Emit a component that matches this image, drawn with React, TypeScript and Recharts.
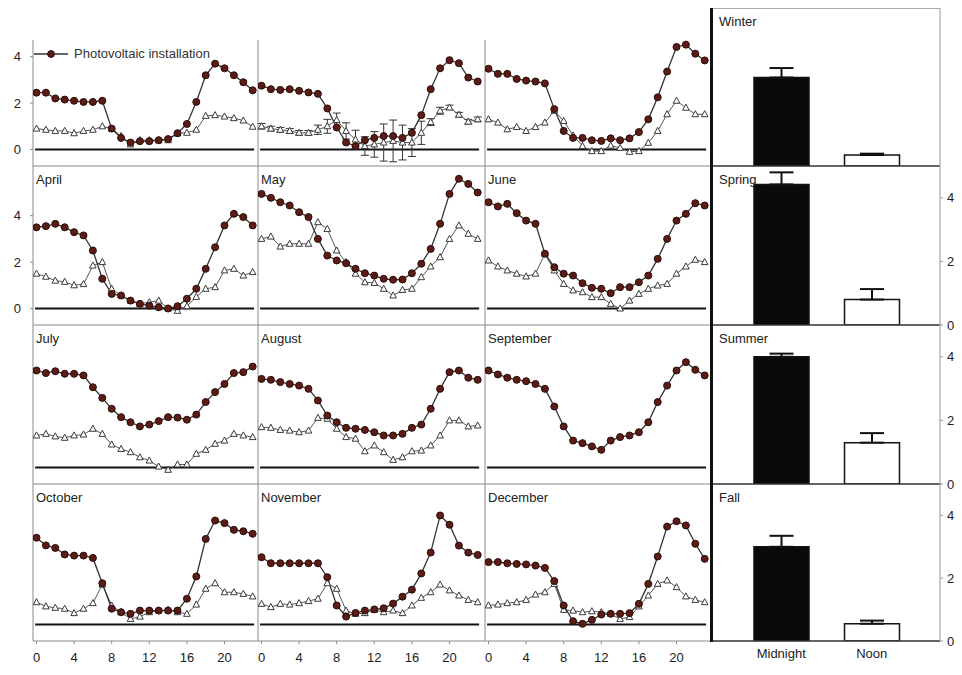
import React from 'react';
import {
  LineChart,
  Line,
  XAxis,
  YAxis,
  ReferenceLine,
  ErrorBar,
  BarChart,
  Bar,
  Cell,
  Legend
} from 'recharts';

// hours of the day and axis ticks
const hours = [0, 1, 2, 3, 4, 5, 6, 7, 8, 9, 10, 11, 12, 13, 14, 15, 16, 17, 18, 19, 20, 21, 22, 23];
const hourTicks = [0, 4, 8, 12, 16, 20];
const valueTicks = [0, 2, 4];

// photovoltaic installation (filled dots) and reference site (open triangles), per month
const pvJan = [2.45, 2.45, 2.2, 2.15, 2.1, 2.05, 2.05, 2.1, 0.9, 0.5, 0.3, 0.36, 0.36, 0.4, 0.45, 0.7, 1.1, 2.05, 3.2, 3.7, 3.5, 3.2, 2.9, 2.55];
const refJan = [0.9, 0.85, 0.8, 0.8, 0.7, 0.8, 0.85, 1.0, 0.9, 0.58, 0.22, 0.4, 0.4, 0.4, 0.4, 0.7, 0.72, 0.85, 1.45, 1.48, 1.42, 1.35, 1.25, 0.98];
const pvFeb = [2.75, 2.6, 2.57, 2.6, 2.53, 2.46, 2.4, 1.77, 0.95, 0.3, 0.15, 0.4, 0.5, 0.58, 0.58, 0.5, 0.72, 1.48, 2.6, 3.5, 3.85, 3.72, 3.1, 2.93];
const refFeb = [1.0, 0.9, 0.85, 0.8, 0.72, 0.72, 0.85, 1.0, 1.27, 0.8, 0.43, 0.15, 0.22, 0.3, 0.37, 0.3, 0.3, 0.72, 1.18, 1.67, 1.81, 1.5, 1.2, 1.3];
const refFebErr = [0.12, 0.1, 0.1, 0.1, 0.1, 0.1, 0.2, 0.3, 0.3, 0.35, 0.4, 0.4, 0.55, 0.8, 0.9, 0.75, 0.6, 0.5, 0.15, 0.15, 0.1, 0.1, 0.1, 0.1];
const pvMar = [3.48, 3.26, 3.26, 3.04, 2.97, 2.93, 2.85, 1.74, 0.8, 0.5, 0.5, 0.4, 0.37, 0.48, 0.4, 0.48, 0.75, 1.3, 2.25, 3.36, 4.42, 4.52, 4.13, 3.84];
const refMar = [1.3, 1.16, 0.87, 0.97, 0.8, 0.97, 1.16, 1.67, 1.23, 0.6, 0.15, -0.07, -0.07, 0.17, 0.07, -0.1, -0.07, 0.29, 0.8, 1.52, 2.1, 1.8, 1.52, 1.52];
const pvApr = [3.5, 3.55, 3.65, 3.5, 3.29, 3.15, 2.5, 1.28, 0.63, 0.56, 0.34, 0.2, 0.12, 0.05, 0.0, 0.1, 0.42, 0.85, 1.71, 2.64, 3.58, 4.08, 3.94, 3.58];
const refApr = [1.5, 1.37, 1.2, 1.15, 1.0, 1.05, 1.85, 2.0, 0.85, 0.56, 0.34, 0.2, 0.27, 0.34, 0.0, -0.1, 0.1, 0.5, 0.85, 0.92, 1.64, 1.71, 1.42, 1.57];
const pvMay = [4.94, 4.77, 4.58, 4.44, 4.15, 3.94, 3.0, 2.28, 2.07, 1.95, 1.71, 1.52, 1.42, 1.28, 1.24, 1.25, 1.52, 1.93, 2.57, 3.65, 4.94, 5.59, 5.37, 5.0];
const refMay = [3.0, 3.1, 2.67, 2.79, 2.79, 2.79, 3.72, 3.43, 2.5, 2.0, 1.5, 1.13, 1.1, 0.85, 0.56, 0.8, 0.85, 1.35, 1.81, 2.21, 3.0, 3.58, 3.22, 3.0];
const pvJun = [4.58, 4.4, 4.51, 4.11, 3.79, 3.65, 2.36, 1.78, 1.5, 1.42, 1.09, 0.89, 0.85, 0.66, 0.92, 0.92, 1.13, 1.42, 2.14, 3.0, 3.79, 4.08, 4.54, 4.44];
const refJun = [2.07, 1.81, 1.64, 1.5, 1.38, 1.5, 2.36, 1.64, 1.06, 0.78, 0.7, 0.49, 0.49, 0.2, 0.0, 0.34, 0.63, 0.85, 0.99, 1.06, 1.5, 1.81, 2.1, 2.0];
const pvJul = [4.18, 4.07, 4.15, 4.04, 4.04, 3.97, 3.46, 3.0, 2.53, 2.17, 1.95, 1.77, 1.85, 2.0, 2.17, 2.15, 2.06, 2.28, 2.82, 3.25, 3.6, 4.07, 4.11, 4.35];
const refJul = [1.38, 1.45, 1.34, 1.28, 1.38, 1.42, 1.67, 1.45, 0.99, 0.8, 0.66, 0.44, 0.3, 0.04, -0.1, 0.13, 0.13, 0.59, 0.76, 1.02, 1.16, 1.45, 1.38, 1.31];
const pvAug = [3.82, 3.78, 3.68, 3.6, 3.53, 3.39, 2.89, 2.24, 1.95, 1.71, 1.67, 1.62, 1.52, 1.38, 1.38, 1.45, 1.71, 1.85, 2.53, 3.39, 4.11, 4.18, 3.87, 3.78];
const refAug = [1.74, 1.71, 1.62, 1.59, 1.52, 1.59, 2.14, 2.1, 1.67, 1.31, 1.24, 0.7, 0.95, 0.66, 0.33, 0.44, 0.7, 0.73, 0.95, 1.38, 2.03, 2.03, 1.77, 1.81];
const pvSep = [4.18, 4.01, 3.87, 3.78, 3.72, 3.6, 3.39, 2.63, 1.77, 1.16, 1.05, 0.91, 0.76, 1.16, 1.31, 1.38, 1.52, 1.95, 2.82, 3.53, 4.18, 4.54, 4.21, 3.97];
const pvOct = [3.74, 3.41, 3.3, 3.02, 2.97, 2.97, 2.87, 1.78, 0.68, 0.53, 0.46, 0.6, 0.6, 0.6, 0.6, 0.6, 1.11, 2.07, 3.69, 4.48, 4.37, 4.08, 4.02, 3.91];
const refOct = [0.96, 0.78, 0.72, 0.68, 0.49, 0.68, 0.92, 1.72, 0.82, 0.53, 0.24, 0.34, 0.53, 0.6, 0.63, 0.53, 0.46, 0.86, 1.54, 1.78, 1.39, 1.39, 1.32, 1.21];
const pvNov = [2.9, 2.64, 2.64, 2.64, 2.64, 2.64, 2.64, 2.04, 0.82, 0.34, 0.5, 0.6, 0.65, 0.7, 0.9, 1.2, 1.5, 2.2, 3.1, 4.7, 4.3, 3.4, 3.1, 3.0];
const refNov = [0.89, 0.75, 0.89, 0.86, 0.92, 1.01, 1.11, 1.78, 1.54, 0.6, 0.46, 0.49, 0.63, 0.53, 0.6, 0.49, 0.82, 1.15, 1.39, 1.72, 1.47, 1.25, 1.06, 0.96];
const pvDec = [2.69, 2.69, 2.64, 2.61, 2.59, 2.54, 2.44, 1.87, 0.82, 0.14, 0.03, 0.2, 0.43, 0.46, 0.46, 0.49, 0.89, 1.75, 2.93, 4.22, 4.45, 4.27, 3.48, 2.83];
const refDec = [0.82, 0.86, 0.92, 0.96, 1.06, 1.29, 1.39, 1.75, 0.63, 0.6, 0.53, 0.57, 0.53, 0.46, 0.24, 0.32, 0.78, 1.25, 1.75, 1.9, 1.61, 1.21, 1.06, 0.96];

// seasonal means at midnight and noon
const seasons = ['Winter', 'Spring', 'Summer', 'Fall'];
const periods = ['Midnight', 'Noon'];
const midnightMean = [2.8, 4.42, 4.0, 3.0];
const midnightErr = [0.3, 0.38, 0.1, 0.35];
const noonMean = [0.35, 0.8, 1.3, 0.55];
const noonErr = [0.04, 0.33, 0.3, 0.1];

const panels = [
  { month: 'January', showName: false, pv: pvJan, ref: refJan, err: null },
  { month: 'February', showName: false, pv: pvFeb, ref: refFeb, err: refFebErr },
  { month: 'March', showName: false, pv: pvMar, ref: refMar, err: null },
  { month: 'April', showName: true, pv: pvApr, ref: refApr, err: null },
  { month: 'May', showName: true, pv: pvMay, ref: refMay, err: null },
  { month: 'June', showName: true, pv: pvJun, ref: refJun, err: null },
  { month: 'July', showName: true, pv: pvJul, ref: refJul, err: null },
  { month: 'August', showName: true, pv: pvAug, ref: refAug, err: null },
  { month: 'September', showName: true, pv: pvSep, ref: null, err: null },
  { month: 'October', showName: true, pv: pvOct, ref: refOct, err: null },
  { month: 'November', showName: true, pv: pvNov, ref: refNov, err: null },
  { month: 'December', showName: true, pv: pvDec, ref: refDec, err: null }
];

// layout (page pixels)
const COL_X = [33, 258, 485];
const COL_W = [225, 227, 226];
const ROW_Y = [40, 166, 325, 484];
const ROW_H = [126, 159, 159, 157];
const BAR_X = 713;
const BAR_W = 227;
const BAR_Y = [8, 166, 325, 484];
const BAR_H = [158, 159, 159, 157];
const PX_HOUR = 9.4;
const PX_UNIT = 23.2;
const ZERO_OFF = 16.5;
const HOUR0_OFF = 3.5;

const FONT = '"Liberation Sans", Arial, Helvetica, sans-serif';
const PV_FILL = '#5c1c15';
const tickStyle = { fontSize: 13, fill: '#222' };

const triangleDot = (props: any) => {
  const { cx, cy, index, value } = props;
  if (cx == null || cy == null || value == null) return <g key={`t-${index}`} />;
  return (
    <path
      key={`t-${index}`}
      d={`M${cx},${cy - 3.6}L${cx + 3.3},${cy + 2.5}L${cx - 3.3},${cy + 2.5}Z`}
      fill="#fff"
      stroke="#3a3a3a"
      strokeWidth={1}
    />
  );
};

const PvLegend = () => (
  <div style={{ display: 'flex', alignItems: 'center', fontSize: 13, color: '#333', fontFamily: FONT }}>
    <svg width={36} height={10}>
      <line x1={0} y1={5} x2={34} y2={5} stroke="#333" strokeWidth={1.3} />
      <circle cx={17} cy={5} r={3.4} fill={PV_FILL} stroke="#2a0c08" />
    </svg>
    <span style={{ marginLeft: 4 }}>Photovoltaic installation</span>
  </div>
);

const MonthPanel = ({ idx }: { idx: number }) => {
  const p = panels[idx];
  const row = Math.floor(idx / 3);
  const col = idx % 3;
  const W = COL_W[col];
  const H = ROW_H[row];
  const padL = col === 0 ? 32 : 4;
  const padB = row === 3 ? 30 : 5;
  const xMin = -HOUR0_OFF / PX_HOUR;
  const xMax = xMin + W / PX_HOUR;
  const yMin = -ZERO_OFF / PX_UNIT;
  const yMax = yMin + H / PX_UNIT;
  const data = hours.map((h, i) => ({
    h,
    pv: p.pv[i],
    ref: p.ref ? p.ref[i] : null,
    err: p.err ? [p.err[i], p.err[i]] : null
  }));

  return (
    <div style={{ position: 'absolute', left: COL_X[col] - padL, top: ROW_Y[row] }}>
      <LineChart width={W + padL} height={H + padB} data={data} margin={{ top: 0, right: 0, bottom: 0, left: 0 }}>
        <XAxis
          type="number"
          dataKey="h"
          domain={[xMin, xMax]}
          allowDataOverflow
          ticks={hourTicks}
          interval={0}
          height={padB}
          tick={row === 3 ? tickStyle : false}
          tickSize={3}
          tickMargin={9}
          stroke="#8a8a8a"
        />
        <YAxis
          type="number"
          domain={[yMin, yMax]}
          allowDataOverflow
          ticks={valueTicks}
          interval={0}
          width={padL}
          tick={col === 0 && row < 2 ? tickStyle : false}
          tickSize={3}
          tickMargin={9}
          stroke="#8a8a8a"
        />
        <ReferenceLine
          segment={[{ x: -0.15, y: 0 }, { x: 23.15, y: 0 }]}
          stroke="#111"
          strokeWidth={2}
        />
        {idx === 0 && (
          <Legend
            layout="vertical"
            align="center"
            verticalAlign="middle"
            wrapperStyle={{ left: padL + 1, top: 6, width: 200 }}
            content={() => <PvLegend />}
          />
        )}
        {p.ref && (
          <Line
            type="linear"
            dataKey="ref"
            name="Reference site"
            stroke="#555"
            strokeWidth={1}
            dot={triangleDot}
            activeDot={false}
            isAnimationActive={false}
          >
            {p.err && <ErrorBar dataKey="err" direction="y" width={4} strokeWidth={1} stroke="#333" />}
          </Line>
        )}
        <Line
          type="linear"
          dataKey="pv"
          name="Photovoltaic installation"
          stroke="#333"
          strokeWidth={1.3}
          dot={{ r: 3.5, fill: PV_FILL, stroke: '#2a0c08', strokeWidth: 1 }}
          activeDot={false}
          isAnimationActive={false}
        />
      </LineChart>
      {p.showName && (
        <div style={{ position: 'absolute', left: padL + 3, top: 6, fontSize: 13, color: '#222', fontFamily: FONT }}>
          {p.month}
        </div>
      )}
    </div>
  );
};

const SeasonPanel = ({ i }: { i: number }) => {
  const H = BAR_H[i];
  const padB = i === 3 ? 30 : 10;
  const data = periods.map((period, k) => ({
    period,
    value: k === 0 ? midnightMean[i] : noonMean[i],
    err: [0, k === 0 ? midnightErr[i] : noonErr[i]]
  }));
  return (
    <div style={{ position: 'absolute', left: BAR_X, top: BAR_Y[i] }}>
      <BarChart width={BAR_W + 24} height={H + padB} data={data} margin={{ top: 0, right: 0, bottom: 0, left: 0 }}>
        <XAxis
          dataKey="period"
          padding={{ left: 23, right: 23 }}
          height={padB}
          tick={i === 3 ? tickStyle : false}
          tickLine={false}
          axisLine={{ stroke: '#333', strokeWidth: 1.5 }}
          interval={0}
        />
        <YAxis
          orientation="right"
          width={24}
          domain={[0, 5]}
          allowDataOverflow
          ticks={valueTicks}
          interval={0}
          tickSize={3}
          tickMargin={4}
          stroke="#999"
          tick={i === 0 ? false : tickStyle}
        />
        <Bar dataKey="value" barSize={55} stroke="#111" strokeWidth={1.5} isAnimationActive={false}>
          {data.map((d, k) => (
            <Cell key={d.period} fill={k === 0 ? '#0a0a0a' : '#ffffff'} />
          ))}
          <ErrorBar dataKey="err" direction="y" width={12} strokeWidth={2} stroke="#111" />
        </Bar>
      </BarChart>
      <div style={{ position: 'absolute', left: 6, top: 6, fontSize: 13, color: '#222', fontFamily: FONT }}>
        {seasons[i]}
      </div>
    </div>
  );
};

export default function App() {
  return (
    <div
      style={{
        position: 'absolute',
        left: 0,
        top: 0,
        width: 962,
        height: 675,
        background: '#fff',
        fontFamily: FONT,
        overflow: 'hidden'
      }}
    >
      {panels.map((p, idx) => (
        <MonthPanel key={p.month} idx={idx} />
      ))}
      {seasons.map((s, i) => (
        <SeasonPanel key={s} i={i} />
      ))}
      {/* frame lines around the seasonal column */}
      <div style={{ position: 'absolute', left: 710, top: 8, width: 3, height: 634, background: '#111' }} />
      <div style={{ position: 'absolute', left: BAR_X, top: 8, width: BAR_W, height: 1, background: '#aaa' }} />
    </div>
  );
}
